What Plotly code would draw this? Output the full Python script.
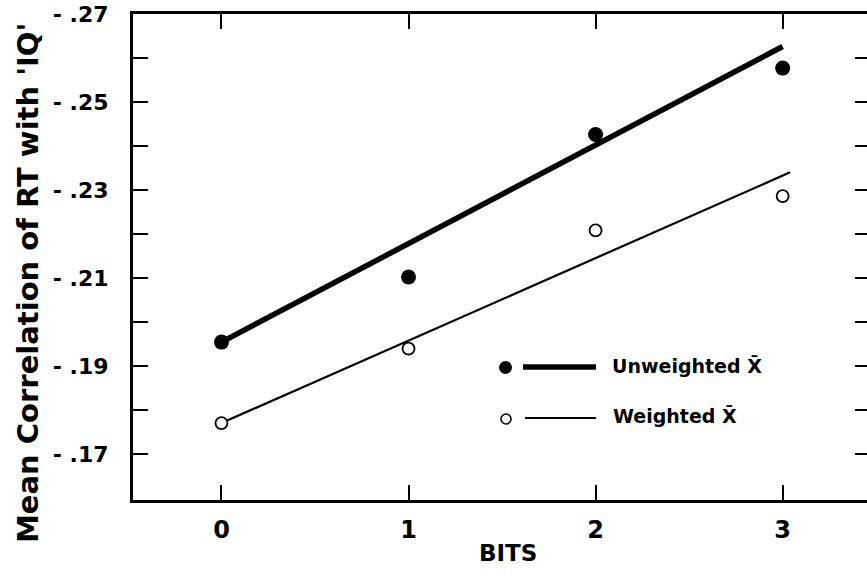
import plotly.graph_objects as go

# ---- data ----
bits = [0, 1, 2, 3]
unweighted = [-0.1954, -0.2102, -0.2426, -0.2577]
weighted = [-0.1770, -0.1939, -0.2208, -0.2286]
unweighted_fit_x = [0, 3.0]
unweighted_fit_y = [-0.1954, -0.2626]
weighted_fit_x = [0, 3.04]
weighted_fit_y = [-0.1770, -0.2340]
y_ticks = [-0.17, -0.18, -0.19, -0.20, -0.21, -0.22, -0.23, -0.24, -0.25, -0.26, -0.27]
y_ticktext = ["- .17", "", "- .19", "", "- .21", "", "- .23", "", "- .25", "", "- .27"]
x_ticks = [0, 1, 2, 3]
x_ticktext = ["0", "1", "2", "3"]
legend_labels = ["Unweighted X\u0304", "Weighted X\u0304"]

FONT = "DejaVu Sans"
W, H = 867, 578
L, R, T, B = 133, 0, 14, 78
PW, PH = W - L - R, H - T - B


def px(x):
    return (x - L) / PW


def py(y):
    return (H - B - y) / PH


fig = go.Figure()
fig.add_trace(go.Scatter(x=unweighted_fit_x, y=unweighted_fit_y, mode="lines",
                         line=dict(color="black", width=5.5), showlegend=False))
fig.add_trace(go.Scatter(x=weighted_fit_x, y=weighted_fit_y, mode="lines",
                         line=dict(color="black", width=2.2), showlegend=False))
fig.add_trace(go.Scatter(x=bits, y=unweighted, mode="markers",
                         marker=dict(color="black", size=15, line=dict(width=0)),
                         showlegend=False))
fig.add_trace(go.Scatter(x=bits, y=weighted, mode="markers",
                         marker=dict(color="white", size=12, line=dict(color="black", width=1.8)),
                         showlegend=False))

fig.update_layout(
    width=W, height=H,
    margin=dict(l=L, r=R, t=T, b=B),
    paper_bgcolor="white", plot_bgcolor="white",
    font=dict(family=FONT, color="black"),
    xaxis=dict(range=[-0.473, 3.451], tickvals=x_ticks, ticktext=x_ticktext,
               ticks="inside", ticklen=15, tickwidth=2, tickcolor="black",
               showline=True, linewidth=3, linecolor="black", mirror="ticks",
               showgrid=False, zeroline=False,
               tickfont=dict(size=24, family=FONT, weight="bold"), ticklabelstandoff=6),
    yaxis=dict(range=[-0.1595, -0.27], tickvals=y_ticks, ticktext=y_ticktext,
               ticks="inside", ticklen=15, tickwidth=2, tickcolor="black",
               showline=True, linewidth=3, linecolor="black",
               showgrid=False, zeroline=False,
               tickfont=dict(size=22, family=FONT, weight="bold"), ticklabelstandoff=17),
    yaxis2=dict(range=[-0.1595, -0.27], overlaying="y", anchor="free", position=1,
                side="right", tickvals=y_ticks, showticklabels=False,
                ticks="inside", ticklen=12, tickwidth=2, tickcolor="black",
                showline=False, showgrid=False, zeroline=False),
)
# invisible trace so the right-hand tick axis renders
fig.add_trace(go.Scatter(x=[0], y=[-0.2], yaxis="y2", mode="markers",
                         marker=dict(opacity=0), showlegend=False, hoverinfo="skip"))

annotations = [
    dict(x=px(28), y=py(283), xref="paper", yref="paper", text="Mean Correlation of RT with 'IQ'",
         textangle=-90, showarrow=False, xanchor="center", yanchor="middle",
         font=dict(size=29, family=FONT, weight="bold")),
    dict(x=px(508), y=py(553), xref="paper", yref="paper", text="BITS",
         showarrow=False, xanchor="center", yanchor="middle",
         font=dict(size=23, family=FONT, weight="bold")),
    dict(x=px(610), y=py(366), xref="paper", yref="paper", text=legend_labels[0],
         xanchor="left", yanchor="middle", showarrow=False,
         font=dict(size=19, family=FONT, weight="bold")),
    dict(x=px(611), y=py(416), xref="paper", yref="paper", text=legend_labels[1],
         xanchor="left", yanchor="middle", showarrow=False,
         font=dict(size=19, family=FONT, weight="bold")),
]
fig.update_layout(annotations=annotations)

shapes = [
    dict(type="line", xref="paper", yref="paper", x0=px(523), x1=px(596), y0=py(367), y1=py(367),
         line=dict(color="black", width=5.5)),
    dict(type="line", xref="paper", yref="paper", x0=px(525), x1=px(596), y0=py(418), y1=py(418),
         line=dict(color="black", width=2)),
    dict(type="circle", xref="paper", yref="paper", xsizemode="pixel", ysizemode="pixel",
         xanchor=px(505.5), yanchor=py(367.5), x0=-6.5, x1=6.5, y0=-6.5, y1=6.5,
         fillcolor="black", line=dict(color="black", width=0)),
    dict(type="circle", xref="paper", yref="paper", xsizemode="pixel", ysizemode="pixel",
         xanchor=px(506), yanchor=py(419), x0=-5, x1=5, y0=-5, y1=5,
         fillcolor="white", line=dict(color="black", width=1.6)),
]
fig.update_layout(shapes=shapes)

fig.write_html("out.html")
